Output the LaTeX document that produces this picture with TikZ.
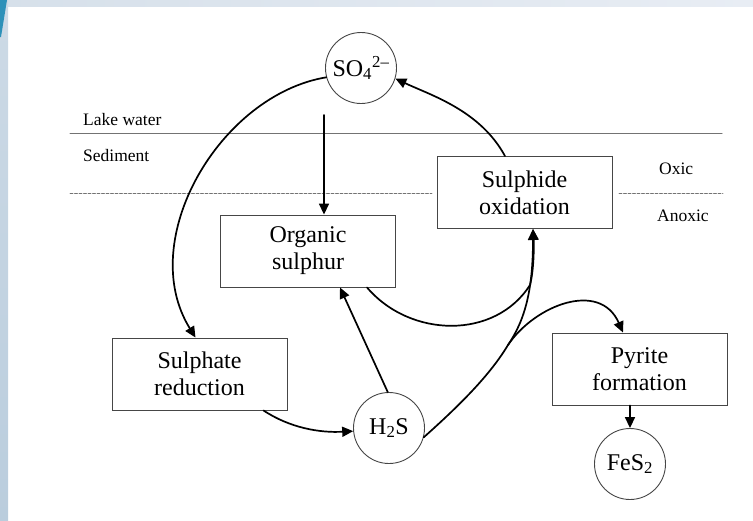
\documentclass[tikz,border=0pt]{standalone}
\usepackage{fontspec}
\setmainfont{Liberation Serif}
\usetikzlibrary{arrows.meta}
\definecolor{boxgray}{RGB}{70,70,70}
\definecolor{framea}{RGB}{214,224,234}
\definecolor{frameb}{RGB}{232,237,244}
\definecolor{sidea}{RGB}{205,218,230}
\definecolor{sideb}{RGB}{186,205,221}
\definecolor{wedge}{RGB}{45,145,185}

\begin{document}
\begin{tikzpicture}[x=1pt,y=-1pt,>={Triangle[length=11pt,width=10pt]},line cap=round,
  proc/.style={draw=boxgray,line width=0.9pt,minimum width=175pt,minimum height=72pt,
    inner sep=0pt,align=center,font=\fontsize{24}{27}\selectfont},
  spec/.style={circle,draw=boxgray,line width=0.9pt,minimum size=71pt,inner sep=0pt,
    font=\fontsize{24}{27}\selectfont},
  lbl/.style={anchor=west,inner sep=0pt,font=\fontsize{17.5}{20}\selectfont},
  flow/.style={->,line width=1.7pt}]
\useasboundingbox (0,0) rectangle (753,520);
% slide frame
\shade[left color=framea,right color=frameb] (0,0) rectangle (753,6);
\shade[top color=sidea,bottom color=sideb] (0,0) rectangle (8,520);
\fill[wedge] (0,0) -- (7,0) -- (1,37) -- (0,37) -- cycle;
% layers
\draw[gray!90!black,line width=1pt] (70,133) -- (722,133);
\draw[gray!90!black,line width=0.7pt,dash pattern=on 3pt off 1.5pt] (70,193) -- (432,193);
\draw[gray!90!black,line width=0.7pt,dash pattern=on 3pt off 1.5pt] (619,193) -- (723,193);
\node[lbl] (lake) at (83,120) {Lake water};
\node[lbl] (sed) at (83,156) {Sediment};
\node[lbl] (oxic) at (659,169) {Oxic};
\node[lbl] (anox) at (657,216) {Anoxic};
% species and processes
\node[spec] (so4) at (361,68) {SO\textsubscript{4}\textsuperscript{2–}};
\node[spec] (h2s) at (389,428) {H\textsubscript{2}S};
\node[spec] (fes2) at (630,464) {FeS\textsubscript{2}};
\node[proc] (sred) at (199.5,374) {Sulphate\\reduction};
\node[proc] (org) at (308,251) {Organic\\sulphur};
\node[proc] (sox) at (524.5,192.5) {Sulphide\\oxidation};
\node[proc] (pyr) at (639.5,369) {Pyrite\\formation};
\coordinate (drop) at (324,115);
\coordinate (fork) at (508,345);
% fluxes
\draw[flow] (so4.195) .. controls (220,95) and (135,240) .. ([xshift=-4pt]sred.north);
\draw[flow] ([xshift=64pt]sred.south) .. controls (290,428) and (320,433) .. (h2s.185);
\draw[flow] (drop) -- (drop |- org.north);
\draw[flow] (h2s.92) -- ([xshift=32pt]org.south);
\draw[flow] ([xshift=59pt]org.south) .. controls (410,338) and (495,340) .. (530,285)
  .. controls (534,270) and (534,245) .. ([xshift=8.5pt]sox.south);
\draw[flow] (h2s.-15) .. controls (460,405) and (490,375) .. (fork)
  .. controls (525,320) and (533,290) .. ([xshift=8.5pt]sox.south);
\draw[flow] (fork) .. controls (535,305) and (600,280) .. ([xshift=-16.5pt]pyr.north);
\draw[flow] ([xshift=-19.5pt]sox.north) .. controls (480,110) and (430,95) .. (so4.-17);
\draw[flow] (pyr.south -| fes2) -- (fes2.north);
\end{tikzpicture}
\end{document}
